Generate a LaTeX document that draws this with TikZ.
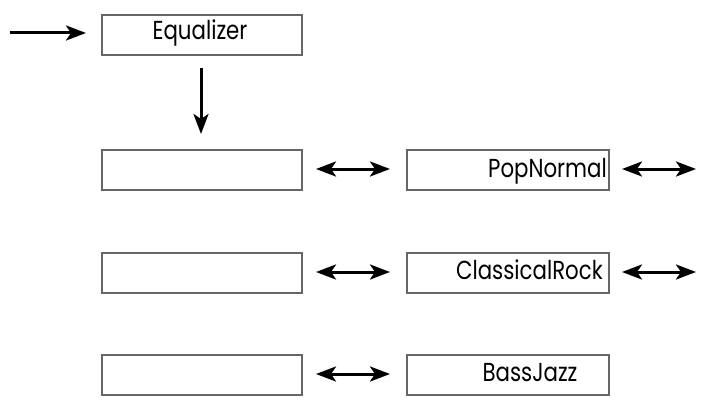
\documentclass[tikz,border=0pt]{standalone}
\usepackage{fontspec}
\setmainfont{Poppins}
\usetikzlibrary{arrows.meta}
\newcommand{\narrowtxt}[1]{\scalebox{0.82}[1]{#1}}
\begin{document}
\begin{tikzpicture}[x=1pt,y=-1pt,
  box/.style={draw=black!60,line width=2.2pt,minimum width=200pt,minimum height=40pt,inner sep=0pt,anchor=north west},
  lbl/.style={font=\fontsize{26}{30}\selectfont,inner sep=0pt},
  tip/.tip={Stealth[length=20pt,width=15pt,inset=5pt]},
  arr/.style={line width=3pt,-tip},
  darr/.style={line width=3pt,tip-tip}]
\useasboundingbox (0,0) rectangle (701,401);
\node[box] (eq) at (101,14) {};
\node[lbl,anchor=base] (eqt) at (200,40) {\narrowtxt{Equalizer}};
\node[box] (l1) at (101,149) {};
\node[box] (l2) at (101,252) {};
\node[box] (l3) at (101,354) {};
\node[box,minimum width=202pt] (r1) at (406,149) {};
\node[box,minimum width=202pt] (r2) at (406,252) {};
\node[box,minimum width=202pt] (r3) at (406,354) {};
\node[lbl,anchor=base east] (r1t) at (607,177) {\narrowtxt{PopNormal}};
\node[lbl,anchor=base east] (r2t) at (603,279) {\narrowtxt{ClassicalRock}};
\node[lbl,anchor=base] (r3t) at (530,381) {\narrowtxt{BassJazz}};
\coordinate (in) at (10,33);
\coordinate (in2) at (86,33);
\coordinate (dn1) at (201,68);
\coordinate (dn2) at (201,134);
\coordinate (a1) at (316,169); \coordinate (b1) at (390,169);
\coordinate (a2) at (316,272); \coordinate (b2) at (390,272);
\coordinate (a3) at (316,374); \coordinate (b3) at (390,374);
\coordinate (c1) at (622,169); \coordinate (o1) at (696,169);
\coordinate (c2) at (622,272); \coordinate (o2) at (696,272);
\draw[arr] (in) -- (in2);
\draw[arr] (dn1) -- (dn2);
\draw[darr] (a1) -- (b1);
\draw[darr] (a2) -- (b2);
\draw[darr] (a3) -- (b3);
\draw[darr] (c1) -- (o1);
\draw[darr] (c2) -- (o2);
\end{tikzpicture}
\end{document}
